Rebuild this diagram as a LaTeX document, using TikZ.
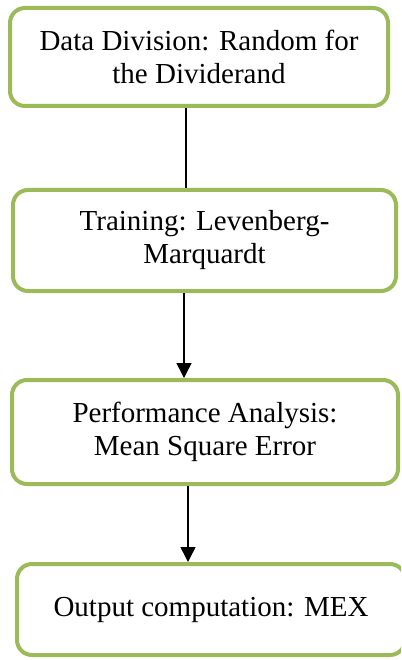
\documentclass[tikz,border=0pt]{standalone}
\usepackage{fontspec}
\setmainfont{Liberation Serif}
\usetikzlibrary{arrows.meta}
\definecolor{boxgreen}{HTML}{9BBB59}
\tikzset{
  stepbox/.style={draw=boxgreen, line width=4pt, rounded corners=15pt, fill=white,
    align=center, inner sep=0pt, font=\fontsize{29}{33}\selectfont},
  conn/.style={draw=black, line width=1.5pt},
  arr/.style={conn, -{Triangle[width=15pt,length=15pt]}}
}
\begin{document}
\begin{tikzpicture}[x=1pt,y=-1pt]
\useasboundingbox (0,0) rectangle (401,660);
\clip (0,0) rectangle (401,660);
\node[stepbox, minimum width=378pt, minimum height=98pt] (b1) at (199,57)
  {Data Division: Random for\\the Dividerand};
\node[stepbox, minimum width=383pt, minimum height=101pt] (b2) at (204.5,240.5)
  {Training: Levenberg-\\Marquardt};
\node[stepbox, minimum width=386pt, minimum height=104pt] (b3) at (205,432)
  {Performance Analysis:\\Mean Square Error};
\node[stepbox, minimum width=388pt, minimum height=91pt] (b4) at (211,609.5)
  {Output computation: MEX};
\coordinate (c1) at ([xshift=-13pt]b1.south);
\coordinate (c2) at ([xshift=-20.5pt]b2.south);
\coordinate (c3) at ([xshift=-17pt]b3.south);
\draw[conn] (c1) -- (c1 |- b2.north);
\draw[arr] (c2) -- (c2 |- b3.north);
\draw[arr] (c3) -- (c3 |- b4.north);
\end{tikzpicture}
\end{document}
